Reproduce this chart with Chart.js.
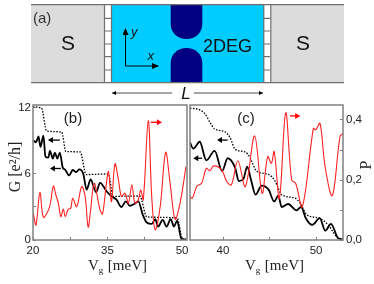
<!DOCTYPE html>
<html>
<head>
<meta charset="utf-8">
<script src="https://cdn.jsdelivr.net/npm/chart.js@4/dist/chart.umd.min.js"></script>
<style>
  html, body { margin: 0; padding: 0; background: #fff; }
  #page { position: relative; width: 374px; height: 284px; overflow: hidden; filter: blur(0.3px); }
  #page svg, #page canvas { position: absolute; }
  #schem { left: 0; top: 0; }
  #chartB { left: 0; top: 100px; }
  #chartC { left: 186px; top: 100px; }
</style>
</head>
<body>
<div id="page">
  <svg id="schem" width="374" height="100" font-family="Liberation Sans, Arial, sans-serif">
    <defs>
      <marker id="tipK" markerWidth="7" markerHeight="6" refX="6" refY="3" orient="auto" markerUnits="userSpaceOnUse"><path d="M0,0 L7,3 L0,6 Z" fill="#000"/></marker>
      <marker id="tipS" markerWidth="4" markerHeight="4" refX="4" refY="2" orient="auto" markerUnits="userSpaceOnUse"><path d="M0,0 L4,2 L0,4 Z" fill="#000"/></marker>
    </defs>
    <rect x="31" y="5" width="73" height="78" fill="#dcdcdc"/>
    <rect x="271" y="5" width="73" height="78" fill="#dcdcdc"/>
    <rect x="112" y="5" width="152" height="78" fill="#00ccff"/>
    <path d="M170.7,5 H202.3 V24 C202.3,33 195,39 186.5,39 C178,39 170.7,33 170.7,24 Z" fill="#000080"/>
    <path d="M170.7,83 H202.3 V63 C202.3,54 195,48 186.5,48 C178,48 170.7,54 170.7,63 Z" fill="#000080"/>
    <g stroke="#707070" stroke-width="1.2" fill="none">
      <path d="M31,4.7 H344 M31,82.7 H344"/>
      <path d="M104.5,5 V83 M111.5,5 V83 M263.8,5 V83 M270.8,5 V83"/>
      <path d="M105,18.3 H111 M105,31 H111 M105,44 H111 M105,56.7 H111 M105,70 H111"/>
      <path d="M264,18.3 H270 M264,31 H270 M264,44 H270 M264,56.7 H270 M264,70 H270"/>
    </g>
    <g stroke="#000" stroke-width="1" fill="none">
      <path d="M125.5,66 V29" marker-end="url(#tipK)"/>
      <path d="M125.5,66 H158" marker-end="url(#tipK)"/>
      <path d="M172,93 H112" marker-end="url(#tipS)" stroke-width="0.7"/>
      <path d="M194,93 H263" marker-end="url(#tipS)" stroke-width="0.7"/>
    </g>
    <text x="33" y="23" font-size="15" fill="#333">(a)</text>
    <text x="68" y="50" font-size="21" text-anchor="middle" fill="#111">S</text>
    <text x="303" y="50" font-size="21" text-anchor="middle" fill="#111">S</text>
    <text x="203" y="51.5" font-size="18" fill="#111">2DEG</text>
    <text x="131" y="36" font-size="13" font-style="italic" fill="#111">y</text>
    <text x="147.5" y="60" font-size="13" font-style="italic" fill="#111">x</text>
    <text x="186" y="99" font-size="17" font-style="italic" text-anchor="middle" fill="#111">L</text>
  </svg>
  <canvas id="chartB" width="188" height="184"></canvas>
  <canvas id="chartC" width="188" height="184"></canvas>
</div>
<script>
// panel (b)
const vgDotB = [20, 21.7, 22.75, 25.8, 26.6, 29.5, 30.7, 35.2, 36.1, 41.5, 42.9, 49, 50.1, 50.8];
const gDotB = [12.1, 12, 9.9, 9.8, 8.05, 8, 5.95, 6, 3.97, 4, 2.1, 2, 0.1, 0.05];
const vgSolidB = [20.1, 20.6, 21.1, 21.5, 22.1, 22.5, 23.1, 23.4, 24, 24.4, 24.9, 25.4, 26, 26.4, 27.3, 28, 28.7, 29.3, 30.1, 30.8, 31.6, 32.7, 33.5, 34.8, 35.8, 36.8, 37.8, 38.7, 39.5, 40.5, 41.2, 42.1, 42.9, 43.9, 44.6, 45.2, 46.1, 46.9, 47.7, 48.4, 49, 49.9, 50.8];
const gSolidB = [9.02, 8.87, 9.41, 8.47, 9.48, 7.58, 7.49, 8.1, 7.4, 7.95, 7.4, 7.95, 6.57, 6.42, 5.87, 6.36, 6.17, 6.42, 6.05, 4.58, 5.5, 4.34, 5.2, 4.43, 3.97, 3.67, 3, 3.51, 3.1, 3.3, 3.51, 2.29, 1.59, 1.46, 1.89, 1.22, 1.83, 1.22, 1.89, 1.22, 1.77, 0.06, 0.06];
const vgRedB = [20.07, 20.6, 21.4, 22.1, 23.3, 24.1, 24.6, 25.1, 25.6, 26.1, 26.5, 27.1, 27.6, 28, 28.8, 29.8, 30.5, 31.1, 31.6, 32.3, 33.2, 33.5, 34, 34.7, 35.2, 35.8, 36.5, 37.2, 37.8, 38.5, 39.2, 39.9, 40.5, 41.2, 41.7, 42.2, 43.2, 43.9, 44.6, 45.6, 46.7, 47.6, 48.6, 49.6, 50.8];
const pRedB = [0.089, 0.05, 0.158, 0.076, 0.109, 0.18, 0.15, 0.123, 0.078, 0.103, 0.078, 0.103, 0.106, 0.139, 0.111, 0.178, 0.145, 0.043, 0.1, 0.189, 0.123, 0.1, 0.087, 0.178, 0.228, 0.128, 0.254, 0.2, 0.145, 0.156, 0.123, 0.184, 0.123, 0.134, 0.167, 0.134, 0.398, 0.145, 0.034, 0.111, 0.292, 0.189, 0.069, 0.123, 0.245];

// panel (c)
const vgDotC = [36.45, 37.5, 38.06, 38.6, 39.1, 40.2, 40.75, 41.3, 42.4, 42.9, 43.6, 44.9, 45.6, 46.3, 47.7, 48.3, 49, 50.4, 51.3, 52.4, 52.9];
const gDotC = [11.98, 11.83, 11.46, 10.7, 10.09, 9.84, 9.32, 8.25, 8, 7.49, 6.27, 5.96, 5.35, 4.12, 3.82, 3.36, 2.29, 1.98, 1.37, 0.15, 0.06];
const vgSolidC = [36.45, 36.8, 37.5, 38.2, 39.1, 39.9, 40.5, 41.3, 41.7, 42.2, 42.6, 43, 43.5, 44.15, 44.9, 45.5, 45.95, 46.3, 47, 47.9, 48.4, 48.9, 49.6, 50.4, 51, 51.6, 52.4, 52.9];
const gSolidC = [8.86, 8.31, 8.93, 7.24, 8.1, 6.27, 7.43, 6.57, 5.35, 5.56, 6.66, 5.5, 4.12, 4.95, 4.58, 3.51, 4.03, 3, 3.27, 2.69, 3, 1.98, 1.37, 1.98, 0.85, 1.46, 0.15, 0.06];
const vgRedC = [36.45, 36.7, 37.2, 37.7, 38.2, 38.6, 39, 39.85, 40.4, 40.9, 41.6, 42.4, 43.4, 44.2, 44.8, 45.2, 45.5, 46.06, 46.74, 47.38, 47.81, 48.53, 49.71, 49.96, 50.43, 50.97, 51.75, 52.58, 52.94];
const pRedC = [0.145, 0.139, 0.18, 0.189, 0.239, 0.231, 0.247, 0.234, 0.195, 0.184, 0.264, 0.178, 0.347, 0.156, 0.278, 0.256, 0.295, 0.139, 0.424, 0.2, 0.189, 0.111, 0.372, 0.367, 0.389, 0.245, 0.148, 0.345, 0.356];

// ticks
const gTicks = [0, 3, 6, 9, 12];
const gLabels = [0, 6, 12];
const pTicks = [0, 0.1, 0.2, 0.3, 0.4];
const pLabels = [0, 0.2, 0.4];
const vgTicksB = [20, 27.5, 35, 42.5, 50];
const vgLabelsB = [20, 35, 50];
const vgTicksC = [40, 45, 50];
const vgLabelsC = [40, 50];

// arrows next to the curves: [from, to, G height, colour]
const arrowsB = [[25.4, 23, 9.08, '#000'], [25.6, 23.4, 6.5, '#000'], [43.7, 45.95, 10.7, '#f00']];
const arrowsC = [[40.5, 39.35, 9.08, '#000'], [37.75, 36.8, 7.43, '#000'], [47.2, 48.3, 11.28, '#f00']];

const SANS = '"Liberation Sans", Arial, sans-serif';
const SERIF = '"Liberation Serif", "Times New Roman", serif';
const GRAY = '#808080';

function pts(xs, ys) {
    return xs.map((x, i) => ({x: x, y: ys[i]}));
}

function setTicks(list) {
    return scale => { scale.ticks = list.map(v => ({value: v})); };
}

// fixed axis size, no extra room for labels that stick out past the plot
function fixSize(scale, prop, size) {
    scale[prop] = size;
    scale.paddingTop = scale.paddingBottom = scale.paddingLeft = scale.paddingRight = 0;
}

function sideText(ctx, text, x, y, font) {
    ctx.save();
    ctx.translate(x, y);
    ctx.rotate(-Math.PI / 2);
    ctx.textAlign = 'center';
    ctx.font = font;
    ctx.fillText(text, 0, 0);
    ctx.restore();
}

const panelDeco = {
    id: 'panelDeco',
    afterDatasetsDraw(chart, args, opts) {
        const {ctx, chartArea: a, scales} = chart;
        ctx.save();
        ctx.strokeStyle = GRAY;
        ctx.lineWidth = 1.5;
        ctx.strokeRect(a.left, a.top, a.right - a.left, a.bottom - a.top);

        opts.arrows.forEach(ar => {
            const x0 = scales.x.getPixelForValue(ar[0]);
            const x1 = scales.x.getPixelForValue(ar[1]);
            const y = scales.y.getPixelForValue(ar[2]);
            const dir = x1 > x0 ? 1 : -1;
            ctx.strokeStyle = ar[3];
            ctx.fillStyle = ar[3];
            ctx.lineWidth = 1.3;
            ctx.beginPath();
            ctx.moveTo(x0, y);
            ctx.lineTo(x1 - dir * 3, y);
            ctx.stroke();
            ctx.beginPath();
            ctx.moveTo(x1, y);
            ctx.lineTo(x1 - dir * 5, y - 3);
            ctx.lineTo(x1 - dir * 5, y + 3);
            ctx.fill();
        });

        ctx.fillStyle = '#222';
        ctx.textBaseline = 'alphabetic';
        ctx.textAlign = 'center';
        ctx.font = '15px ' + SANS;
        ctx.fillText(opts.tag, opts.tagX, 23);

        // V_g [meV]
        ctx.textAlign = 'left';
        ctx.font = '15px ' + SERIF;
        ctx.fillText('V', opts.titleX, 170);
        const vw = ctx.measureText('V').width;
        ctx.font = '9px ' + SERIF;
        ctx.fillText('g', opts.titleX + vw, 173);
        ctx.font = '15px ' + SERIF;
        ctx.fillText('[meV]', opts.titleX + vw + 9, 170);

        if (chart.options.scales.y.display) sideText(ctx, 'G [e²/h]', 20, 67, '16px ' + SERIF);
        if (chart.options.scales.p.display) sideText(ctx, 'P', 185, 65, '16px ' + SERIF);
        ctx.restore();
    }
};

function makePanel(id, d) {
    return new Chart(document.getElementById(id).getContext('2d'), {
        type: 'line',
        data: {
            datasets: [
                {data: pts(d.vgRed, d.pRed), yAxisID: 'p', borderColor: '#f22', borderWidth: 1.1, tension: 0.35},
                {data: pts(d.vgDot, d.gDot), yAxisID: 'y', borderColor: '#000', borderWidth: 1.3, borderDash: [1.5, 1.5], cubicInterpolationMode: 'monotone'},
                {data: pts(d.vgSolid, d.gSolid), yAxisID: 'y', borderColor: '#000', borderWidth: 1.8, cubicInterpolationMode: 'monotone'}
            ]
        },
        options: {
            responsive: false,
            animation: false,
            elements: {point: {radius: 0}},
            layout: {padding: d.padding, autoPadding: false},
            plugins: {
                legend: {display: false},
                tooltip: {enabled: false},
                panelDeco: {arrows: d.arrows, tag: d.tag, tagX: d.tagX, titleX: d.titleX}
            },
            scales: {
                x: {
                    type: 'linear',
                    min: d.xMin,
                    max: d.xMax,
                    afterBuildTicks: setTicks(d.vgTicks),
                    afterFit: s => fixSize(s, 'height', 44),
                    border: {display: false},
                    grid: {drawOnChartArea: false, tickLength: -3, color: GRAY},
                    ticks: {
                        autoSkip: false,
                        maxRotation: 0,
                        padding: 7,
                        color: '#222',
                        font: {family: SANS, size: 11.5},
                        callback: v => d.vgLabels.includes(v) ? String(v) : ''
                    }
                },
                y: {
                    min: 0,
                    max: 12.27,
                    display: d.showG,
                    afterBuildTicks: setTicks(gTicks),
                    afterFit: s => fixSize(s, 'width', d.showG ? 33 : 0),
                    border: {display: false},
                    grid: {drawOnChartArea: false, tickLength: -3, color: GRAY},
                    ticks: {
                        autoSkip: false,
                        padding: 5,
                        color: '#222',
                        font: {family: SANS, size: 11.5},
                        callback: v => gLabels.includes(v) ? String(v) : ''
                    }
                },
                p: {
                    position: 'right',
                    min: 0,
                    max: 0.45,
                    display: d.showP,
                    afterBuildTicks: setTicks(pTicks),
                    afterFit: s => fixSize(s, 'width', d.showP ? 31 : 0),
                    border: {display: false},
                    grid: {drawOnChartArea: false, tickLength: -3, color: GRAY},
                    ticks: {
                        autoSkip: false,
                        padding: 6,
                        color: '#222',
                        font: {family: SANS, size: 11.5},
                        callback: v => pLabels.includes(v) ? v.toFixed(1).replace('.', ',') : ''
                    }
                }
            }
        },
        plugins: [panelDeco]
    });
}

makePanel('chartB', {
    vgRed: vgRedB, pRed: pRedB, vgDot: vgDotB, gDot: gDotB, vgSolid: vgSolidB, gSolid: gSolidB,
    vgTicks: vgTicksB, vgLabels: vgLabelsB, arrows: arrowsB,
    xMin: 20, xMax: 51, showG: true, showP: false,
    tag: '(b)', tagX: 73, titleX: 88,
    padding: {top: 5, left: 0, right: 1, bottom: 0}
});

makePanel('chartC', {
    vgRed: vgRedC, pRed: pRedC, vgDot: vgDotC, gDot: gDotC, vgSolid: vgSolidC, gSolid: gSolidC,
    vgTicks: vgTicksC, vgLabels: vgLabelsC, arrows: arrowsC,
    xMin: 36.45, xMax: 52.9, showG: false, showP: true,
    tag: '(c)', tagX: 60, titleX: 59,
    padding: {top: 5, left: 4, right: 0, bottom: 0}
});
</script>
</body>
</html>
